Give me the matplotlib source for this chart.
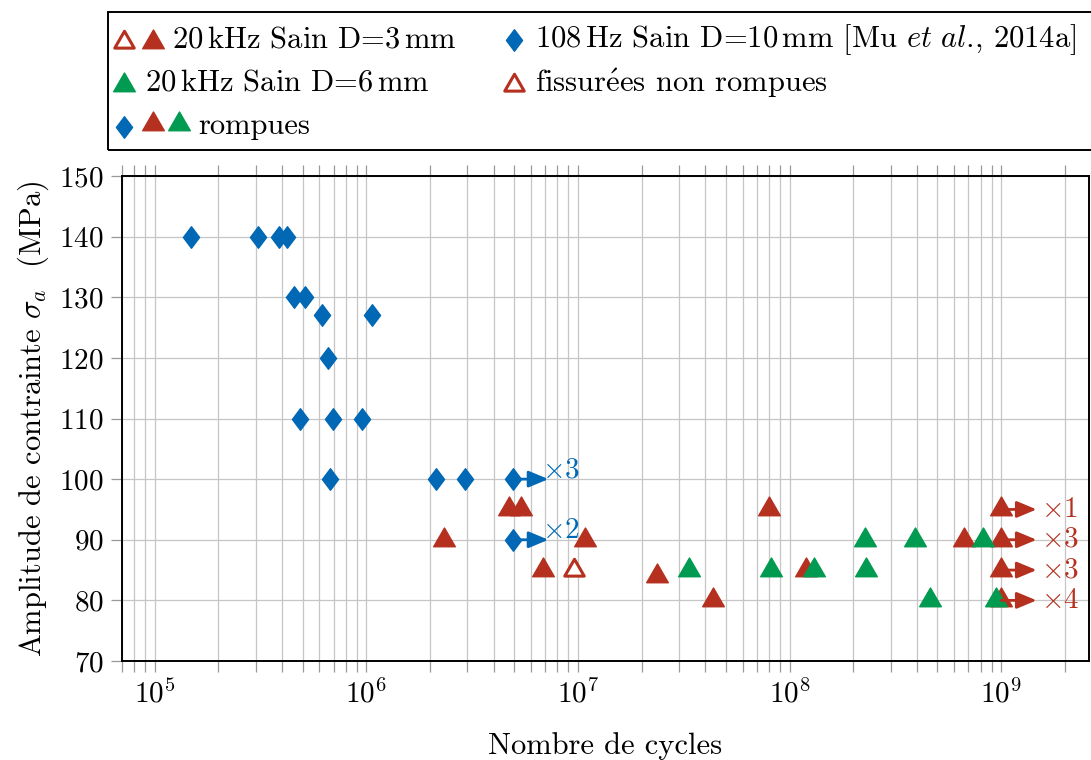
import matplotlib.pyplot as plt
from matplotlib.lines import Line2D
from matplotlib.patches import Rectangle
from matplotlib.path import Path

plt.rcParams['font.family'] = ['cmr10', 'DejaVu Serif']
plt.rcParams['mathtext.fontset'] = 'cm'
plt.rcParams['axes.formatter.use_mathtext'] = True

red = '#B5301E'
blue = '#0068B5'
green = '#009A50'

# 108 Hz, D=10 mm [Mu et al., 2014a] (rompues)
mu_cycles = [1.48e5, 3.06e5, 3.85e5, 4.2e5, 4.57e5, 5.15e5, 6.2e5, 6.6e5, 1.06e6,
             4.83e5, 6.98e5, 9.5e5, 6.75e5, 2.14e6, 2.93e6, 4.93e6, 4.93e6]
mu_stress = [140, 140, 140, 140, 130, 130, 127, 120, 127,
             110, 110, 110, 100, 100, 100, 100, 90]

# 20 kHz, D=3 mm (rompues)
d3_cycles = [4.73e6, 5.37e6, 2.33e6, 1.08e7, 6.8e6, 2.35e7, 4.36e7, 7.95e7,
             1.19e8, 6.68e8, 1e9, 1e9, 1e9, 1e9]
d3_stress = [95, 95, 90, 90, 85, 84, 80, 95, 85, 90, 95, 90, 85, 80]

# 20 kHz, D=3 mm, fissurees non rompues
crack_cycles = [9.57e6]
crack_stress = [85]

# 20 kHz, D=6 mm (rompues)
d6_cycles = [3.34e7, 8.2e7, 1.3e8, 2.28e8, 2.3e8, 3.93e8, 4.62e8, 8.2e8, 9.5e8]
d6_stress = [85, 85, 85, 90, 85, 90, 80, 90, 80]

# repeated points (arrow + count)
rep_cycles = [4.93e6, 4.93e6, 1e9, 1e9, 1e9, 1e9]
rep_stress = [100, 90, 95, 90, 85, 80]
rep_count = ['3', '2', '1', '3', '3', '4']
rep_color = [blue, blue, red, red, red, red]

# marker shapes (pgfplots-like)
tri = Path([(-1, -0.577), (1, -0.577), (0, 1.155), (-1, -0.577)], closed=True)
dia = Path([(0, 1), (0.75, 0), (0, -1), (-0.75, 0), (0, 1)], closed=True)
tri_ms = 18
dia_ms = 15.5
fs = 22

W, H = 1091, 760
fig = plt.figure(figsize=(W / 100, H / 100), dpi=100)
ax = fig.add_axes([122 / W, 1 - 661 / H, (1089 - 122) / W, (661 - 176) / H])

ax.plot(mu_cycles, mu_stress, ls='none', marker=dia, ms=dia_ms, color=blue, zorder=3)
ax.plot(d3_cycles, d3_stress, ls='none', marker=tri, ms=tri_ms, color=red, zorder=3)
ax.plot(crack_cycles, crack_stress, ls='none', marker=tri, ms=tri_ms * 0.9,
        mfc='white', mec=red, mew=2.2, zorder=3)
ax.plot(d6_cycles, d6_stress, ls='none', marker=tri, ms=tri_ms, color=green, zorder=4)

for n, s, k, c in zip(rep_cycles, rep_stress, rep_count, rep_color):
    ax.annotate('', xy=(n * 1.47, s), xytext=(n, s),
                arrowprops=dict(arrowstyle='-|>,head_length=0.6,head_width=0.25',
                                color=c, lw=2, shrinkA=0, shrinkB=0, mutation_scale=20),
                zorder=5)
    if c == blue:
        off = (-4.5, 6.5)
    else:
        off = (3, 0)
    ax.annotate(r'$\times$' + k, xy=(n * 1.47, s), xytext=off, textcoords='offset points',
                ha='left', va='center', color=c, fontsize=21, zorder=5)

ax.set_xscale('log')
ax.set_xlim(7e4, 2.6e9)
ax.set_ylim(70, 150)
ax.set_yticks(range(70, 151, 10))
ax.grid(which='major', color='#c6c6c6', lw=0.9)
ax.grid(which='minor', axis='x', color='#c6c6c6', lw=0.9)
ax.set_axisbelow(True)
ax.tick_params(which='both', direction='out', top=True, color='#999999', labelsize=21,
               length=8, width=0.9, pad=5)
for sp in ax.spines.values():
    sp.set_linewidth(1.4)

ax.set_xlabel('Nombre de cycles', fontsize=fs, labelpad=17)
ax.set_ylabel(r'Amplitude de contrainte $\sigma_a$  (MPa)', fontsize=fs, labelpad=6)

# legend box
fig.add_artist(Rectangle((108 / W, 1 - 150 / H), 1000 / W, 138 / H, transform=fig.transFigure,
                         fill=False, ec='black', lw=1.4))


def leg_mark(x, y, shape, ms, col, filled=True):
    kw = dict(mfc=col, mec=col) if filled else dict(mfc='white', mec=col, mew=2.2)
    if not filled:
        ms = ms * 0.9
    fig.add_artist(Line2D([x / W], [1 - y / H], marker=shape, ms=ms, ls='none',
                          transform=fig.transFigure, **kw))


def leg_text(x, y, txt):
    fig.text(x / W, 1 - y / H, txt, ha='left', va='center', fontsize=fs)


leg_mark(124, 42, tri, tri_ms, red, filled=False)
leg_mark(153, 42, tri, tri_ms, red)
leg_text(172, 40, r'20$\,$kHz Sain D=3$\,$mm')
leg_mark(514, 40, dia, dia_ms, blue)
leg_text(535, 40, r'108$\,$Hz Sain D=10$\,$mm [Mu $\mathit{et\ al}$., 2014a]')
leg_mark(124, 85, tri, tri_ms, green)
leg_text(145, 83, r'20$\,$kHz Sain D=6$\,$mm')
leg_mark(514, 85, tri, tri_ms, red, filled=False)
leg_text(535, 83, r'fissur$\acute{\mathrm{e}}$es non rompues')
leg_mark(124, 127, dia, dia_ms, blue)
leg_mark(153, 124, tri, tri_ms, red)
leg_mark(179, 124, tri, tri_ms, green)
leg_text(198, 126, 'rompues')

fig.savefig('out.png', dpi=100)
